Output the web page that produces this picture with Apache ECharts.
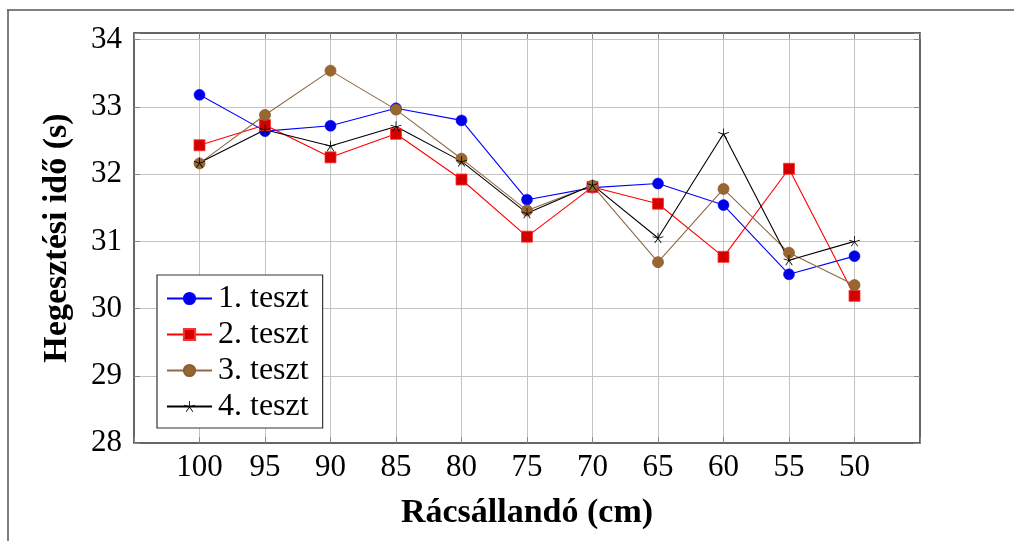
<!DOCTYPE html>
<html>
<head>
<meta charset="utf-8">
<script src="https://cdn.jsdelivr.net/npm/echarts@6/dist/echarts.min.js"></script>
<style>
html,body{margin:0;padding:0;background:#fff;}
#chart{width:1014px;height:541px;}
</style>
</head>
<body>
<div id="chart"></div>
<script>
// ---- data ----
const categories = ['100','95','90','85','80','75','70','65','60','55','50'];
const teszt1 = [33.18, 32.64, 32.72, 32.98, 32.80, 31.62, 31.80, 31.86, 31.54, 30.51, 30.78];
const teszt2 = [32.43, 32.73, 32.25, 32.60, 31.92, 31.07, 31.81, 31.56, 30.77, 32.08, 30.19];
const teszt3 = [32.16, 32.88, 33.54, 32.96, 32.23, 31.46, 31.83, 30.69, 31.78, 30.83, 30.35];
const teszt4 = [32.17, 32.66, 32.42, 32.71, 32.19, 31.42, 31.84, 31.05, 32.60, 30.72, 31.00];
const seriesNames = ['1. teszt', '2. teszt', '3. teszt', '4. teszt'];
const yTicks = [28, 29, 30, 31, 32, 33, 34];

// ---- style helpers ----
const FONT = '"Liberation Serif", "DejaVu Serif", serif';
function starPath() {
  // five thin spokes (pgfplots "star" mark)
  const w = 0.07, parts = [];
  for (let k = 0; k < 5; k++) {
    const a = -Math.PI / 2 + k * 2 * Math.PI / 5;
    const dx = Math.cos(a), dy = Math.sin(a);
    const px = -dy * w, py = dx * w;
    const pts = [[px, py], [dx + px, dy + py], [dx - px, dy - py], [-px, -py]];
    parts.push('M' + pts.map(p => p[0].toFixed(3) + ' ' + p[1].toFixed(3)).join(' L') + ' Z');
  }
  return 'path://' + parts.join(' ');
}
const toPairs = arr => arr.map((v, i) => [i, v]);

const chart = echarts.init(document.getElementById('chart'), null, {renderer: 'canvas'});

const gridLeft = 134, gridRight = 94, gridTop = 33, gridBottom = 98;

const option = {
  animation: false,
  backgroundColor: '#fff',
  textStyle: {fontFamily: FONT},
  grid: {left: gridLeft, right: gridRight, top: gridTop, bottom: gridBottom},
  graphic: [
    {type: 'line', shape: {x1: 7, y1: 10, x2: 1014, y2: 10}, style: {stroke: '#555', lineWidth: 1.5}, silent: true},
    {type: 'line', shape: {x1: 8, y1: 10, x2: 8, y2: 541}, style: {stroke: '#555', lineWidth: 1.5}, silent: true}
  ],
  legend: {
    orient: 'vertical',
    left: 157, top: 275,
    data: seriesNames,
    backgroundColor: '#fff',
    borderColor: '#333',
    borderWidth: 1.2,
    borderRadius: 0,
    padding: [7, 14, 5, 9],
    itemWidth: 45,
    itemHeight: 14,
    itemGap: 3,
    textStyle: {fontFamily: FONT, fontSize: 32, color: '#000', lineHeight: 33, padding: [0, 0, 0, 1]}
  },
  xAxis: [
    {
      type: 'value', min: -1, max: 11, interval: 1, position: 'bottom',
      name: 'Rácsállandó (cm)', nameLocation: 'middle', nameGap: 53,
      nameTextStyle: {fontFamily: FONT, fontSize: 34, fontWeight: 'bold', color: '#000'},
      axisLine: {show: true, onZero: false, lineStyle: {color: '#333', width: 1.5}},
      axisTick: {show: true, inside: true, length: 6, lineStyle: {color: '#888', width: 1}},
      axisLabel: {
        fontFamily: FONT, fontSize: 31, color: '#000', margin: 9,
        formatter: v => (v >= 0 && v < categories.length && Number.isInteger(v)) ? categories[v] : ''
      },
      splitLine: {show: true, showMinLine: false, showMaxLine: false, lineStyle: {color: '#c4c4c4', width: 1}}
    },
    {
      type: 'value', min: -1, max: 11, interval: 1, position: 'top',
      axisLine: {show: true, onZero: false, lineStyle: {color: '#333', width: 1.5}},
      axisTick: {show: true, inside: true, length: 6, lineStyle: {color: '#888', width: 1}},
      axisLabel: {show: false},
      splitLine: {show: false}
    }
  ],
  yAxis: [
    {
      type: 'value', min: 28, max: 34.1, interval: 1, position: 'left',
      name: 'Hegesztési idő (s)', nameLocation: 'middle', nameGap: 60, nameRotate: 90,
      nameTextStyle: {fontFamily: FONT, fontSize: 34, fontWeight: 'bold', color: '#000'},
      axisLine: {show: true, onZero: false, lineStyle: {color: '#333', width: 1.5}},
      axisTick: {show: true, inside: true, length: 6, lineStyle: {color: '#888', width: 1}},
      axisLabel: {
        fontFamily: FONT, fontSize: 31, color: '#000', margin: 12,
        formatter: v => yTicks.indexOf(v) >= 0 ? String(v) : ''
      },
      splitLine: {show: true, showMinLine: false, showMaxLine: false, lineStyle: {color: '#c4c4c4', width: 1}}
    },
    {
      type: 'value', min: 28, max: 34.1, interval: 1, position: 'right',
      axisLine: {show: true, onZero: false, lineStyle: {color: '#333', width: 1.5}},
      axisTick: {show: true, inside: true, length: 6, lineStyle: {color: '#888', width: 1}},
      axisLabel: {show: false},
      splitLine: {show: false}
    }
  ],
  series: [
    {
      name: seriesNames[0], type: 'line', data: toPairs(teszt1),
      symbol: 'circle', symbolSize: 11,
      itemStyle: {color: '#0000e6', borderColor: '#0000ff', borderWidth: 0.5},
      lineStyle: {color: '#0000ff', width: 1.1}
    },
    {
      name: seriesNames[1], type: 'line', data: toPairs(teszt2),
      symbol: 'rect', symbolSize: 11,
      itemStyle: {color: '#d40000', borderColor: '#ff3030', borderWidth: 0.8},
      lineStyle: {color: '#ff0000', width: 1.1}
    },
    {
      name: seriesNames[2], type: 'line', data: toPairs(teszt3),
      symbol: 'circle', symbolSize: 11,
      itemStyle: {color: '#99662f', borderColor: '#8a5f30', borderWidth: 0.8},
      lineStyle: {color: '#8f6a45', width: 1.1}
    },
    {
      name: seriesNames[3], type: 'line', data: toPairs(teszt4),
      symbol: starPath(), symbolSize: [11, 10.5],
      itemStyle: {color: '#000', borderWidth: 0},
      lineStyle: {color: '#000', width: 1.1}
    }
  ]
};
chart.setOption(option);
</script>
</body>
</html>
